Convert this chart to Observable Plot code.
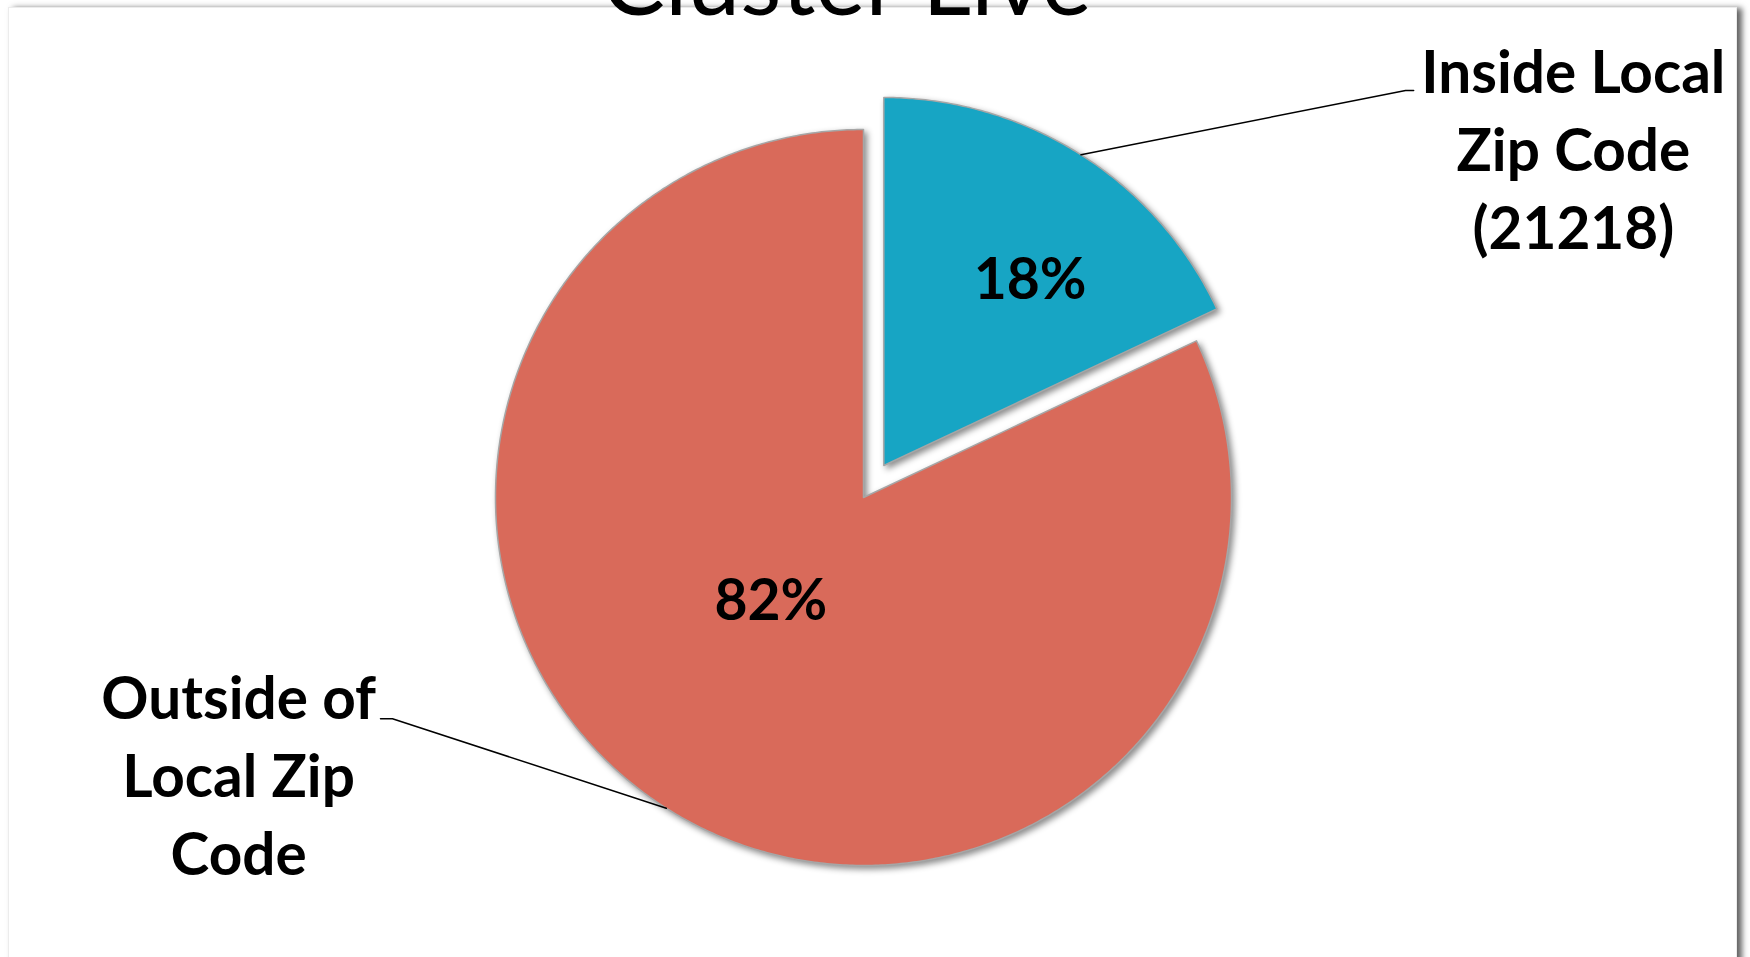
<!DOCTYPE html>
<html>
<head>
<meta charset="utf-8">
<script src="https://cdn.jsdelivr.net/npm/d3@7"></script>
<script src="https://cdn.jsdelivr.net/npm/@observablehq/plot@0.6"></script>
<style>
html, body { margin: 0; padding: 0; background: #ffffff; }
#wrap { position: relative; width: 1750px; height: 957px; overflow: hidden; background: #ffffff; }
#frame { position: absolute; left: 8px; top: 7px; width: 1727px; height: 1000px; border: 1px solid #ececec; box-shadow: 5px 1px 6px rgba(0,0,0,0.62); background: #ffffff; }
#chart { position: absolute; left: 0; top: 0; }
</style>
</head>
<body>
<div id="wrap"><div id="frame"></div><div id="chart"></div></div>
<script>
// ---- data ----
const categories = ["Inside Local Zip Code (21218)", "Outside of Local Zip Code"];
const labelLines = ["Inside Local\nZip Code\n(21218)", "Outside of\nLocal Zip\nCode"];
const values = [18, 82];
const percentLabels = ["18%", "82%"];
const title = "Cluster Live";

// ---- styles / layout ----
const colors = ["#17a5c4", "#d96a5a"];
const W = 1750, H = 957, CX = 863, CY = 497, R = 368;
const explode = [0.103, 0];
const pctPos = [{r: 0.64, a: 38.4}, {r: 0.38, a: 221.5}];
const leaderElbow = [[1.473, 1.106], [-1.280, -0.601]];
const leaderEnd = [[1.495, 1.106], [-1.3125, -0.601]];
const labelPos = [[1.929, 0.955], [-1.698, -0.747]];
const titlePos = [-0.046, 1.31];

const arcs = d3.pie().sort(null).value(d => d)(values);
const rad = Math.PI / 180;

const slices = arcs.map((a, i) => {
  const m = (a.startAngle + a.endAngle) / 2;
  const ox = explode[i] * Math.sin(m), oy = explode[i] * Math.cos(m);
  const pts = [{x: ox, y: oy}];
  const n = Math.max(8, Math.ceil((a.endAngle - a.startAngle) / (0.5 * rad)));
  for (let k = 0; k <= n; k++) {
    const t = a.startAngle + (a.endAngle - a.startAngle) * k / n;
    pts.push({x: ox + Math.sin(t), y: oy + Math.cos(t)});
  }
  return {name: categories[i], color: colors[i], pts, ox, oy, mid: m};
});

const leaders = slices.map((s, i) => [
  {x: s.ox + Math.sin(s.mid), y: s.oy + Math.cos(s.mid)},
  {x: leaderElbow[i][0], y: leaderElbow[i][1]},
  {x: leaderEnd[i][0], y: leaderEnd[i][1]}
]);

const pctData = slices.map((s, i) => ({
  x: s.ox + pctPos[i].r * Math.sin(pctPos[i].a * rad),
  y: s.oy + pctPos[i].r * Math.cos(pctPos[i].a * rad),
  text: percentLabels[i]
}));

const labelData = labelLines.map((t, i) => ({x: labelPos[i][0], y: labelPos[i][1], text: t}));

const chart = Plot.plot({
  width: W, height: H,
  margin: 0,
  style: {background: "transparent", overflow: "visible"},
  x: {domain: [-CX / R, (W - CX) / R], range: [0, W], axis: null},
  y: {domain: [(CY - H) / R, CY / R], range: [H, 0], axis: null},
  marks: [
    ...slices.map(s => Plot.line(s.pts, {x: "x", y: "y", curve: "linear-closed", fill: s.color, stroke: "#a6a6a6", strokeWidth: 1.5})),
    ...leaders.map(l => Plot.line(l, {x: "x", y: "y", stroke: "#000000", strokeWidth: 1.5})),
    Plot.text(pctData, {x: "x", y: "y", text: "text", fontSize: 57, fontWeight: "bold", fill: "#000", lineAnchor: "middle", fontFamily: "Lato"}),
    Plot.text(labelData, {x: "x", y: "y", text: "text", fontSize: 58.5, fontWeight: "bold", fill: "#000", lineAnchor: "middle", lineHeight: 1.335, fontFamily: "Lato"}),
    Plot.text([title], {x: () => titlePos[0], y: () => titlePos[1], text: d => d, fontSize: 95, fill: "#000", lineAnchor: "bottom", fontFamily: "Lato"})
  ]
});

chart.querySelectorAll("g").forEach(g => {
  const f = (g.getAttribute("fill") || "").toLowerCase();
  if (colors.includes(f)) g.style.filter = "drop-shadow(3px 3px 3px rgba(0,0,0,0.45))";
});
document.getElementById("chart").appendChild(chart);
</script>
</body>
</html>
